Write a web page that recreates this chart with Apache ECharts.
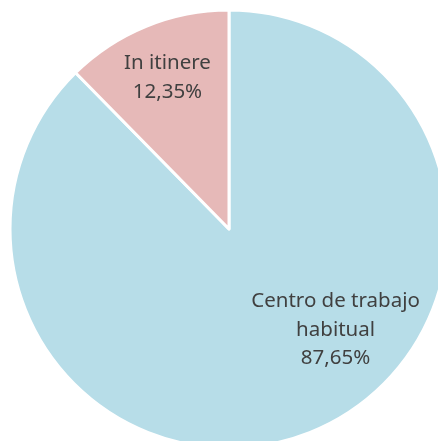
<!DOCTYPE html>
<html>
<head>
<meta charset="utf-8">
<script src="https://cdn.jsdelivr.net/npm/echarts@6/dist/echarts.min.js"></script>
<style>
  html, body { margin: 0; padding: 0; background: #fff; }
  #chart { width: 438px; height: 441px; }
</style>
</head>
<body>
<div id="chart"></div>
<script>
const categories = ["Centro de trabajo habitual", "In itinere"];
const labelLines = ["Centro de trabajo\nhabitual", "In itinere"];
const values = [87.65, 12.35];
const colors = ["#b7dde8", "#e6b9b8"];

// label nudges away from the default inside spot
const labelShift = [
  { dx: 64, dy: -3 },
  { dx: -19, dy: -47 },
];

const myChart = echarts.init(document.getElementById("chart"));
myChart.setOption({
  animation: false,
  series: [
    {
      type: "pie",
      center: [229, 229],
      radius: [0, 219],
      startAngle: 90,
      clockwise: true,
      itemStyle: {
        borderColor: "#fff",
        borderWidth: 3,
      },
      label: {
        show: true,
        position: "inside",
        color: "#404040",
        fontFamily: "Noto Sans",
        fontSize: 20.5,
        lineHeight: 28.5,
        formatter: (p) =>
          labelLines[p.dataIndex] + "\n" + p.value.toFixed(2).replace(".", ",") + "%",
      },
      labelLine: { show: false },
      labelLayout: (p) => labelShift[p.dataIndex],
      emphasis: { disabled: true },
      data: categories.map((name, i) => ({
        name: name,
        value: values[i],
        itemStyle: { color: colors[i] },
      })),
    },
  ],
});
</script>
</body>
</html>
